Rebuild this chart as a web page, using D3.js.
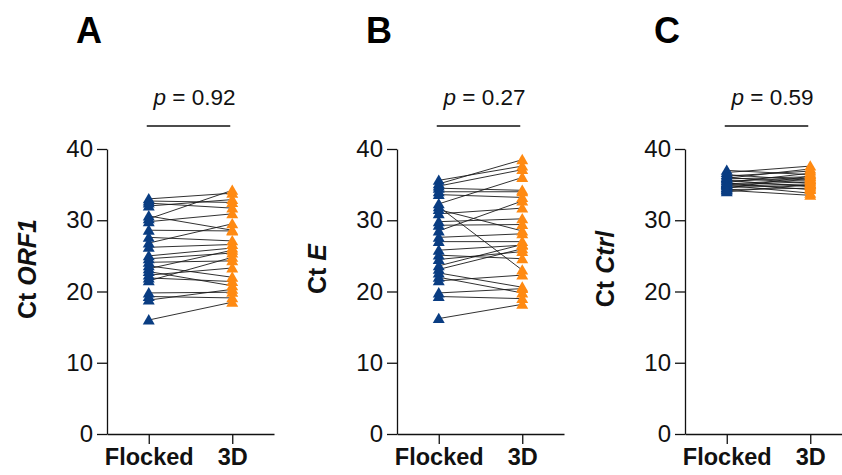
<!DOCTYPE html>
<html>
<head>
<meta charset="utf-8">
<title>Ct paired</title>
<script src="https://d3js.org/d3.v7.min.js"></script>
<style>
  body { margin: 0; background: #fff; }
  text { font-family: "Liberation Sans", Arial, sans-serif; }
</style>
</head>
<body>
<div id="chart"></div>
<script>
// categories and panels
let groups = ["Flocked", "3D"];
let panelLetters = ["A", "B", "C"];
let geneNames = ["ORF1", "E", "Ctrl"];
let pValues = ["0.92", "0.27", "0.59"];
let yTicks = [0, 10, 20, 30, 40];

// paired Ct values, [Flocked, 3D]
let orf1Pairs = [
    [33.0, 33.8], [32.7, 32.5], [32.4, 31.7], [32.0, 32.9], [30.6, 28.6],
    [30.2, 34.2], [29.8, 30.9], [28.6, 28.5], [27.6, 27.1], [26.8, 29.5],
    [26.2, 26.6], [25.0, 26.1], [24.6, 25.4], [24.1, 24.3], [23.6, 22.0],
    [23.2, 25.8], [22.8, 20.8], [22.3, 23.3], [21.9, 21.4], [21.5, 24.8],
    [19.8, 19.9], [19.3, 19.1], [18.8, 20.3], [16.0, 18.5]
];
let ePairs = [
    [35.6, 37.6], [35.1, 38.5], [34.8, 37.1], [34.5, 34.2], [34.0, 34.0],
    [33.6, 33.2], [32.3, 36.0], [31.9, 23.0], [31.5, 28.5], [30.9, 31.7],
    [29.8, 30.2], [29.3, 29.4], [28.5, 32.7], [27.6, 28.1], [27.0, 27.0],
    [25.8, 26.5], [25.1, 24.6], [24.5, 25.6], [23.6, 26.6], [23.1, 26.0],
    [22.6, 20.6], [22.0, 19.8], [21.5, 22.3], [19.8, 20.4], [19.3, 19.0],
    [16.2, 18.2]
];
let ctrlPairs = [
    [37.0, 36.4], [36.7, 37.6], [36.4, 35.6], [36.2, 36.9], [36.0, 35.2],
    [35.9, 37.2], [35.8, 36.1], [35.6, 34.7], [35.5, 35.9], [35.3, 36.6],
    [35.2, 34.3], [35.1, 35.7], [35.0, 35.4], [34.9, 33.8], [34.8, 35.1],
    [34.6, 34.9], [34.5, 36.2], [34.3, 34.5], [34.2, 33.5], [34.0, 35.0]
];
let allPairs = [orf1Pairs, ePairs, ctrlPairs];

let colors = {"Flocked": "#0a3d82", "3D": "#ff8a12"};

let W = 842, H = 475;
let axisLeftX = [107, 397, 685];
let plotTop = 149, plotBottom = 434, axisLen = 167;

let svg = d3.select("#chart").append("svg")
    .attr("width", W).attr("height", H);

let yScale = d3.scaleLinear().domain([0, 40]).range([plotBottom, plotTop]);
let xScale = d3.scalePoint().domain(groups).range([0, axisLen]).padding(0.5);
let tri = d3.symbol().type(d3.symbolTriangle).size(62);

allPairs.forEach(function(pairs, i) {
    let g = svg.append("g").attr("transform", "translate(" + axisLeftX[i] + ",0)");

    // y axis
    let yAxis = g.append("g")
        .call(d3.axisLeft(yScale).tickValues(yTicks).tickSize(10).tickSizeOuter(0).tickPadding(4));
    yAxis.selectAll("text").attr("font-size", "24px").attr("fill", "#111")
        .attr("font-family", "Liberation Sans, Arial, sans-serif");
    yAxis.selectAll("line, path").attr("stroke", "#111").attr("stroke-width", 1.3);

    // x axis
    let xAxis = g.append("g").attr("transform", "translate(0," + plotBottom + ")")
        .call(d3.axisBottom(xScale).tickSize(10).tickSizeOuter(0).tickPadding(4));
    xAxis.selectAll("text").attr("font-size", "23.5px").attr("font-weight", "bold")
        .attr("fill", "#111").attr("font-family", "Liberation Sans, Arial, sans-serif");
    xAxis.selectAll("line, path").attr("stroke", "#111").attr("stroke-width", 1.3);

    // paired lines
    g.selectAll(".pair").data(pairs).enter().append("line")
        .attr("x1", xScale("Flocked")).attr("x2", xScale("3D"))
        .attr("y1", function(d) { return yScale(d[0]); })
        .attr("y2", function(d) { return yScale(d[1]); })
        .attr("stroke", "#1a1a1a").attr("stroke-width", 0.9);

    // markers
    groups.forEach(function(grp, k) {
        g.selectAll(".m" + k).data(pairs).enter().append("path")
            .attr("d", tri)
            .attr("transform", function(d) {
                return "translate(" + xScale(grp) + "," + (yScale(d[k]) + 1) + ")";
            })
            .attr("fill", colors[grp]);
    });

    // y title
    let yt = g.append("text")
        .attr("transform", "translate(-80,269) rotate(-90)")
        .attr("text-anchor", "middle").attr("dy", "0.35em")
        .attr("font-size", "25px").attr("font-weight", "bold").attr("fill", "#111");
    yt.append("tspan").text("Ct ");
    yt.append("tspan").attr("font-style", "italic").text(geneNames[i]);

    // panel letter
    g.append("text").attr("x", -31).attr("y", 43)
        .attr("font-size", "36px").attr("font-weight", "bold").attr("fill", "#000")
        .text(panelLetters[i]);

    // p value with bar
    let mid = (xScale("Flocked") + xScale("3D")) / 2;
    g.append("line")
        .attr("x1", xScale("Flocked") - 2).attr("x2", xScale("3D") - 2)
        .attr("y1", 126).attr("y2", 126)
        .attr("stroke", "#111").attr("stroke-width", 1.5);
    let pt = g.append("text").attr("x", mid + 4).attr("y", 105)
        .attr("text-anchor", "middle").attr("font-size", "22.5px").attr("fill", "#111");
    pt.append("tspan").attr("font-style", "italic").text("p");
    pt.append("tspan").text(" = " + pValues[i]);
});
</script>
</body>
</html>
